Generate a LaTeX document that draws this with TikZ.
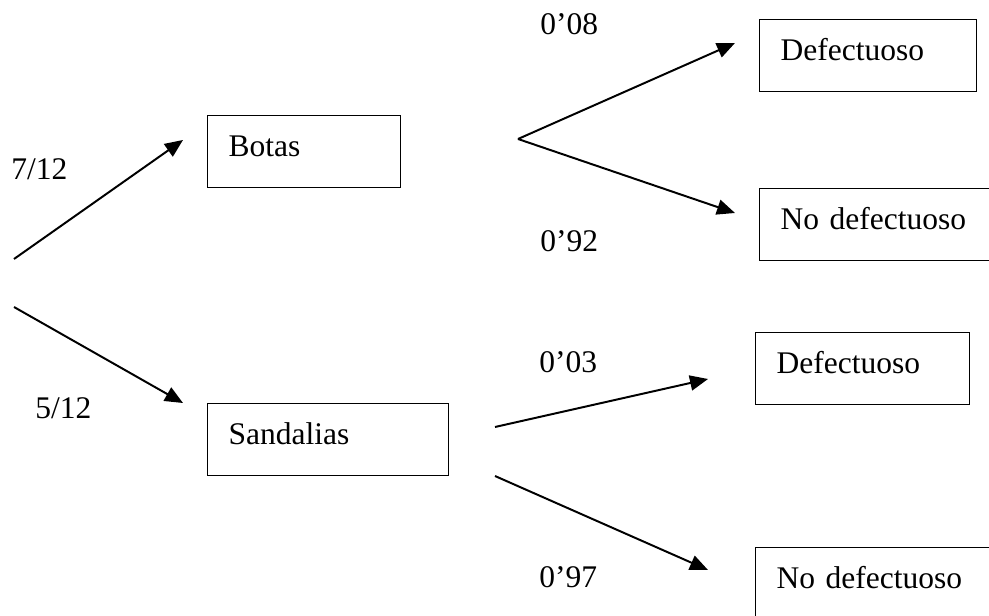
\documentclass[tikz,border=0pt]{standalone}
\usepackage{fontspec}
\setmainfont{Liberation Serif}
\usetikzlibrary{arrows.meta}

\tikzset{
  caja/.style={draw, line width=0.9pt, anchor=north west, inner xsep=0.525cm, inner ysep=0pt,
    text height=1.025cm, text depth=0.775cm, align=left, text width=#1},
  prob/.style={anchor=base west, inner sep=0pt},
  rama/.style={line width=1.4pt, -{Triangle[length=0.45cm,width=0.38cm]}}
}

\begin{document}
\begin{tikzpicture}[x=0.025cm, y=-0.025cm, font=\fontsize{22.4}{27}\selectfont]
\useasboundingbox (0,0) rectangle (989,616);

%% cajas
\node[caja=3.775cm] (botas)   at (207,115) {Botas};
\node[caja=4.975cm] (sand)    at (207,403) {Sandalias};
\node[caja=4.375cm] (defB)    at (759,19)  {Defectuoso};
\node[caja=5.075cm] (nodefB)  at (759,188) {No defectuoso};
\node[caja=4.3cm]   (defS)    at (755,332) {Defectuoso};
\node[caja=5.075cm] (nodefS)  at (755,547) {No defectuoso};

%% puntos de las ramas
\coordinate (r1) at (14,259);
\coordinate (r2) at (14,307);
\coordinate (t1) at (183,140);
\coordinate (t2) at (183,403);
\coordinate (b0) at (518,139);
\coordinate (b1) at (735,43);
\coordinate (b2) at (735,213);
\coordinate (s1) at (495,427);
\coordinate (s2) at (495,476);
\coordinate (u1) at (708,379);
\coordinate (u2) at (708,570);

%% ramas
\draw[rama] (r1) -- (t1);     %% botas
\draw[rama] (r2) -- (t2);     %% sandalias
\draw[rama] (b0) -- (b1);     %% botas defectuoso
\draw[rama] (b0) -- (b2);     %% botas no defectuoso
\draw[rama] (s1) -- (u1);     %% sandalias defectuoso
\draw[rama] (s2) -- (u2);     %% sandalias no defectuoso

%% probabilidades
\node[prob] (p712) at (11,180)  {7/12};
\node[prob] (p512) at (35,419)  {5/12};
\node[prob] (p008) at (540,35)  {0’08};
\node[prob] (p092) at (540,252) {0’92};
\node[prob] (p003) at (539,373) {0’03};
\node[prob] (p097) at (539,587) {0’97};
\end{tikzpicture}
\end{document}
